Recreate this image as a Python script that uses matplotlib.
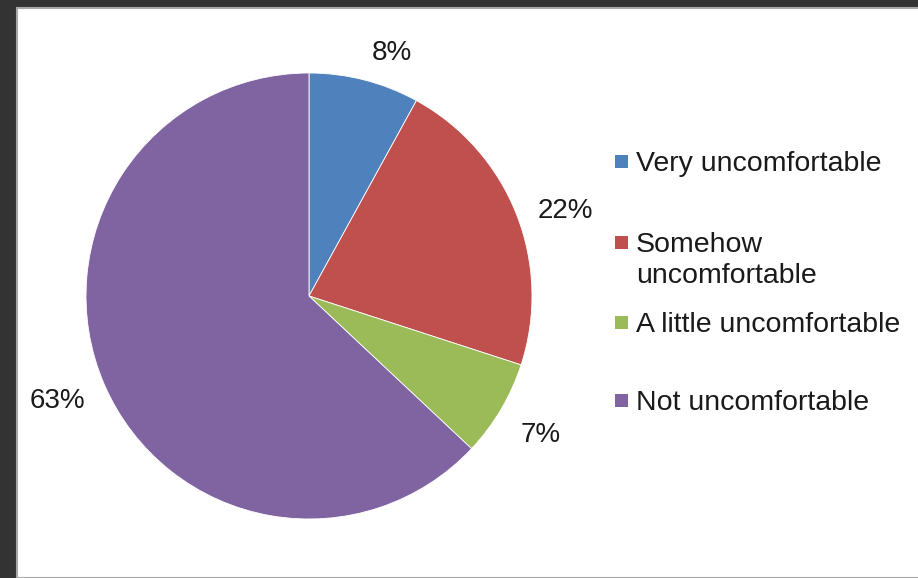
import matplotlib.pyplot as plt
from matplotlib.patches import Rectangle

plt.rcParams['font.family'] = ['Liberation Sans', 'DejaVu Sans']

# data
categories = ['Very uncomfortable', 'Somehow\nuncomfortable',
              'A little uncomfortable', 'Not uncomfortable']
values = [8, 22, 7, 63]
colors = ['#4F81BD', '#C0504D', '#9BBB59', '#8064A2']

W, H = 918, 578
fig = plt.figure(figsize=(W / 100, H / 100), dpi=100, facecolor='#333333')

# white chart panel with thin grey border (behind the axes)
fig.patches.append(Rectangle((17 / W, 0), 1, (H - 8) / H, transform=fig.transFigure,
                             facecolor='white', edgecolor='#a8a8a8', linewidth=1.5,
                             zorder=-5))

# pie axis: centre (309, 296) px, radius 223 px
cx, cy, r = 309, 296, 223
ax = fig.add_axes([(cx - r) / W, (H - cy - r) / H, 2 * r / W, 2 * r / H])
ax.patch.set_alpha(0)
wedges, _, autotexts = ax.pie(values, colors=colors, startangle=90, counterclock=False,
                              autopct='%d%%', pctdistance=1.18, radius=1,
                              wedgeprops=dict(edgecolor='white', linewidth=0.6),
                              textprops=dict(fontsize=20, color='#1a1a1a'))

# small nudges (pixels, right / down) to mimic Excel's outside-end placement
nudges = [(17, 12), (12, 12), (5, 5), (-10, 0)]
for t, (dx, dy) in zip(autotexts, nudges):
    x, y = t.get_position()
    t.set_position((x + dx / r, y - dy / r))

ax.set_xlim(-1, 1)
ax.set_ylim(-1, 1)
ax.set_aspect('equal')
ax.axis('off')

# legend, Excel style: fixed slots, text top-aligned
tops = [150, 231, 311, 389]
for lab, col, t in zip(categories, colors, tops):
    fig.patches.append(Rectangle((615 / W, (H - t - 18) / H), 13 / W, 13 / H,
                                 transform=fig.transFigure, facecolor=col,
                                 edgecolor='none'))
    fig.text(636 / W, (H - t - 1) / H, lab, fontsize=20.5, color='#1a1a1a',
             va='top', ha='left', linespacing=1.25)

fig.savefig('out.png', dpi=100, facecolor=fig.get_facecolor())
